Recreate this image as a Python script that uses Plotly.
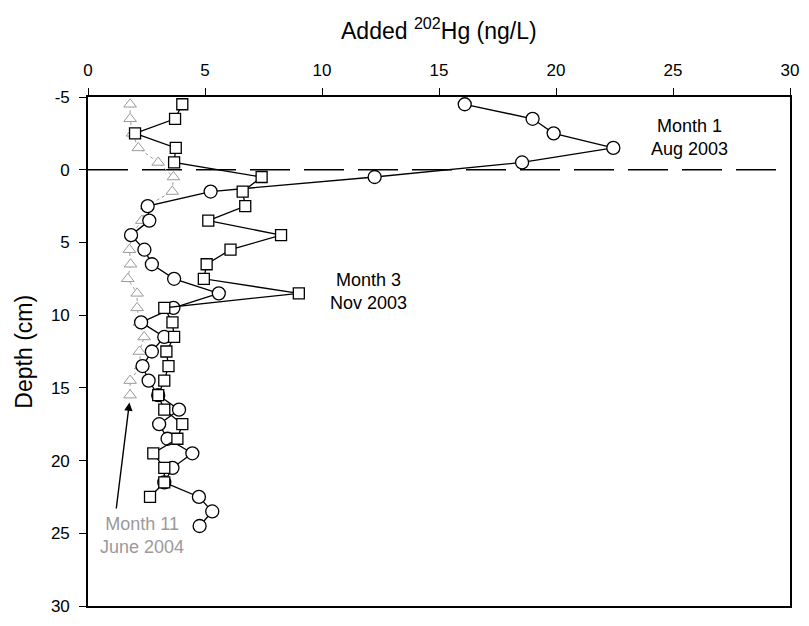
import plotly.graph_objects as go

# Added 202Hg profiles with sediment depth (negative depth = overlying water)
depth_aug2003 = [-4.5, -3.5, -2.5, -1.5, -0.5, 0.5, 1.5, 2.5, 3.5, 4.5,
                 5.5, 6.5, 7.5, 8.5, 9.5, 10.5, 11.5, 12.5, 13.5, 14.5,
                 15.5, 16.5, 17.5, 18.5, 19.5, 20.5, 21.5, 22.5, 23.5, 24.5]
hg_aug2003 = [16.1, 19.0, 19.9, 22.45, 18.55, 12.25, 5.24, 2.55, 2.62, 1.84,
              2.41, 2.73, 3.68, 5.59, 3.65, 2.27, 3.26, 2.73, 2.33, 2.59,
              3.0, 3.89, 3.04, 3.4, 4.46, 3.61, 3.26, 4.74, 5.31, 4.77]

depth_nov2003 = [-4.5, -3.5, -2.5, -1.5, -0.5, 0.5, 1.5, 2.5, 3.5, 4.5,
                 5.5, 6.5, 7.5, 8.5, 9.5, 10.5, 11.5, 12.5, 13.5, 14.5,
                 15.5, 16.5, 17.5, 18.5, 19.5, 20.5, 21.5, 22.5]
hg_nov2003 = [4.03, 3.72, 2.01, 3.75, 3.68, 7.42, 6.61, 6.72, 5.14, 8.25,
              6.09, 5.07, 4.95, 9.01, 3.26, 3.61, 3.68, 3.35, 3.44, 3.26,
              3.0, 3.26, 4.03, 3.82, 2.79, 3.26, 3.26, 2.65]

depth_jun2004 = [-4.5, -3.5, -2.5, -1.5, -0.5, 0.5, 1.5, 2.5, 3.5, 4.5,
                 5.5, 6.5, 7.5, 8.5, 9.5, 10.5, 11.5, 12.5, 13.5, 14.5, 15.5]
hg_jun2004 = [1.8, 1.8, 1.9, 2.15, 3.0, 3.65, 3.6, 2.5, 2.3, 1.85,
              1.77, 1.82, 1.7, 2.1, 2.1, 2.2, 2.4, 2.2, 2.25, 1.8, 1.8]

x_ticks = [0, 5, 10, 15, 20, 25, 30]
y_ticks = [-5, 0, 5, 10, 15, 20, 25, 30]
y_tick_text = ["-5", "0", "5", "10", "15", "20", "25", "30"]

FONT = "Liberation Sans, Arial, Helvetica, sans-serif"
GREY = "#9a9a9a"

fig = go.Figure()

# sediment-water interface
fig.add_trace(go.Scatter(
    x=[x_ticks[0], x_ticks[-1]], y=[0, 0], mode="lines",
    line=dict(color="black", width=1.4, dash="40px,14px"),
    hoverinfo="skip", showlegend=False))

fig.add_trace(go.Scatter(
    x=hg_jun2004, y=depth_jun2004, mode="lines+markers", name="Month 11",
    line=dict(color=GREY, width=1, dash="dot"),
    marker=dict(symbol="triangle-up", size=11, color="white",
                line=dict(color=GREY, width=1)),
    showlegend=False))

fig.add_trace(go.Scatter(
    x=hg_aug2003, y=depth_aug2003, mode="lines+markers", name="Month 1",
    line=dict(color="black", width=1.3),
    marker=dict(symbol="circle", size=13, color="white",
                line=dict(color="black", width=1.3)),
    showlegend=False))

fig.add_trace(go.Scatter(
    x=hg_nov2003, y=depth_nov2003, mode="lines+markers", name="Month 3",
    line=dict(color="black", width=1.3),
    marker=dict(symbol="square", size=11, color="white",
                line=dict(color="black", width=1.3)),
    showlegend=False))

annotations = [
    dict(x=25.7, y=-2.2, xref="x", yref="y", text="Month 1<br>Aug 2003",
         showarrow=False, font=dict(size=18, color="black", family=FONT)),
    dict(x=12.0, y=8.4, xref="x", yref="y", text="Month 3<br>Nov 2003",
         showarrow=False, font=dict(size=18, color="black", family=FONT)),
    dict(x=2.32, y=25.15, xref="x", yref="y", text="Month 11<br>June 2004",
         showarrow=False, font=dict(size=18, color=GREY, family=FONT)),
    # arrow pointing at the deepest June 2004 sample
    dict(x=1.77, y=16.0, xref="x", yref="y", ax=1.2, ay=23.4,
         axref="x", ayref="y", text="", showarrow=True,
         arrowhead=2, arrowsize=1.2, arrowwidth=1.4, arrowcolor="black"),
    dict(x=0.5, y=1.133, xref="paper", yref="paper",
         text="Added <sup>202</sup>Hg (ng/L)", showarrow=False,
         xanchor="center", yanchor="middle",
         font=dict(size=23, color="black", family=FONT)),
    dict(x=-0.0924, y=0.5, xref="paper", yref="paper", text="Depth (cm)",
         textangle=-90, showarrow=False, xanchor="center", yanchor="middle",
         font=dict(size=23, color="black", family=FONT)),
]

fig.update_layout(
    width=809, height=626,
    margin=dict(l=88, r=14, t=97, b=10),
    paper_bgcolor="white", plot_bgcolor="white",
    font=dict(family=FONT, size=17, color="black"),
    annotations=annotations,
    xaxis=dict(
        side="top", range=[0, 30], tickvals=x_ticks,
        ticks="outside", ticklen=7, tickwidth=1.3, tickcolor="black",
        showline=True, linecolor="black", linewidth=1.6, mirror=True,
        showgrid=False, zeroline=False, ticklabelstandoff=5,
        tickfont=dict(size=17)),
    yaxis=dict(
        range=[30, -5], tickvals=y_ticks, ticktext=y_tick_text,
        ticks="outside", ticklen=7, tickwidth=1.3, tickcolor="black",
        showline=True, linecolor="black", linewidth=1.6, mirror=True,
        showgrid=False, zeroline=False, ticklabelstandoff=6,
        tickfont=dict(size=17)),
)

fig.write_html("out.html")
